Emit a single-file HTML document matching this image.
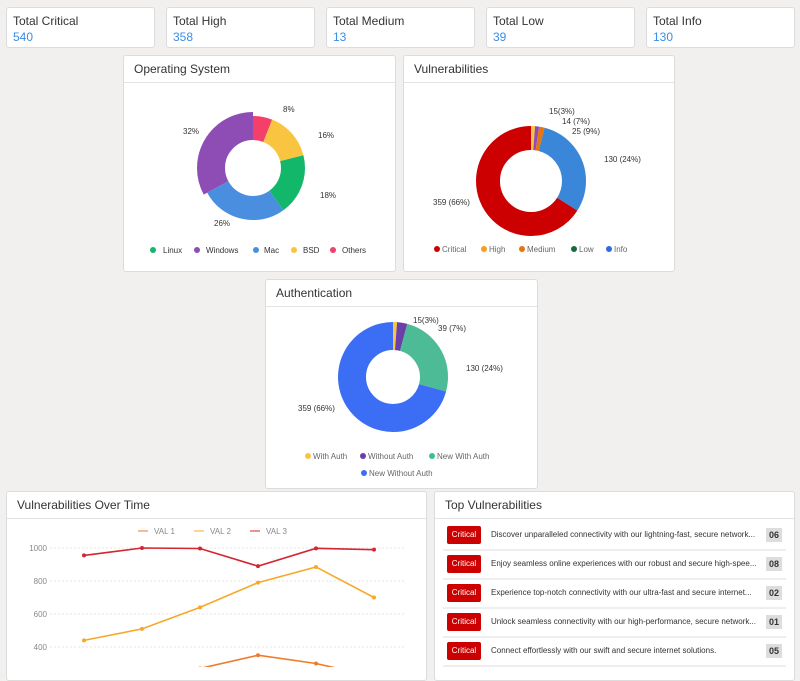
<!DOCTYPE html>
<html><head><meta charset="utf-8"><style>
body{margin:0;width:800px;height:667px;overflow:hidden;background:#f1f0ee;font-family:"Liberation Sans",sans-serif;position:relative}
.card{position:absolute;background:#fff;border:1px solid #dcdcdc;border-radius:3px;box-sizing:border-box}
.t{position:absolute;left:6px;top:6px;font-size:12px;color:#333}
.v{position:absolute;left:6px;top:22px;font-size:12px;color:#3a8ee6}
.hd{height:26px;border-bottom:1px solid #e3e3e3;font-size:12px;color:#333;line-height:26px;padding-left:10px}
svg{position:absolute;left:0;top:0}
.row{position:absolute;left:8px;right:8px;height:27px;border-bottom:2px solid #eee}
.b{position:absolute;left:4px;top:4px;width:34px;height:18px;background:#cc0000;color:#fff;font-size:8px;line-height:18px;text-align:center;border-radius:2px}
.tx{position:absolute;left:48px;top:8px;font-size:8px;color:#333}
.n{position:absolute;right:4px;top:6px;width:16px;height:14px;background:#ddd;font-size:9px;font-weight:bold;line-height:14px;text-align:center;color:#333}
</style></head><body>
<div class="card" style="left:6px;top:7px;width:149px;height:41px"><div class="t">Total Critical</div><div class="v">540</div></div>
<div class="card" style="left:166px;top:7px;width:149px;height:41px"><div class="t">Total High</div><div class="v">358</div></div>
<div class="card" style="left:326px;top:7px;width:149px;height:41px"><div class="t">Total Medium</div><div class="v">13</div></div>
<div class="card" style="left:486px;top:7px;width:149px;height:41px"><div class="t">Total Low</div><div class="v">39</div></div>
<div class="card" style="left:646px;top:7px;width:149px;height:41px"><div class="t">Total Info</div><div class="v">130</div></div>

<div class="card" style="left:123px;top:55px;width:273px;height:217px"><div class="hd">Operating System</div></div>
<div class="card" style="left:403px;top:55px;width:272px;height:217px"><div class="hd">Vulnerabilities</div></div>
<div class="card" style="left:265px;top:279px;width:273px;height:210px"><div class="hd">Authentication</div></div>
<div class="card" style="left:6px;top:491px;width:421px;height:190px"><div class="hd">Vulnerabilities Over Time</div></div>
<div class="card" style="left:434px;top:491px;width:361px;height:190px"><div class="hd">Top Vulnerabilities</div>
<div class="row" style="top:30px"><div class="b">Critical</div><div class="tx">Discover unparalleled connectivity with our lightning-fast, secure network...</div><div class="n">06</div></div>
<div class="row" style="top:59px"><div class="b">Critical</div><div class="tx">Enjoy seamless online experiences with our robust and secure high-spee...</div><div class="n">08</div></div>
<div class="row" style="top:88px"><div class="b">Critical</div><div class="tx">Experience top-notch connectivity with our ultra-fast and secure internet...</div><div class="n">02</div></div>
<div class="row" style="top:117px"><div class="b">Critical</div><div class="tx">Unlock seamless connectivity with our high-performance, secure network...</div><div class="n">01</div></div>
<div class="row" style="top:146px"><div class="b">Critical</div><div class="tx">Connect effortlessly with our swift and secure internet solutions.</div><div class="n">05</div></div>
</div>

<svg id="s" width="800" height="667" font-family="Liberation Sans, sans-serif" font-size="8" fill="#333">
<g stroke="#e6e6e6" stroke-dasharray="2,2"><line x1="50" y1="548" x2="405" y2="548"/><line x1="50" y1="581" x2="405" y2="581"/><line x1="50" y1="614" x2="405" y2="614"/><line x1="50" y1="647" x2="405" y2="647"/></g>
<g fill="#888" text-anchor="end"><text x="47" y="551">1000</text><text x="47" y="584">800</text><text x="47" y="617">600</text><text x="47" y="650">400</text></g>
<g fill="#888"><line x1="138" y1="531" x2="148" y2="531" stroke="#f07a2a"/><text x="154" y="534">VAL 1</text>
<line x1="194" y1="531" x2="204" y2="531" stroke="#f8a829"/><text x="210" y="534">VAL 2</text>
<line x1="250" y1="531" x2="260" y2="531" stroke="#d42530"/><text x="266" y="534">VAL 3</text></g>
<g id="donuts"></g>
<g font-size="8">
<text x="283" y="112">8%</text><text x="318" y="138">16%</text><text x="320" y="198">18%</text><text x="214" y="226">26%</text><text x="183" y="134">32%</text>
<text x="549" y="114">15(3%)</text><text x="562" y="124">14 (7%)</text><text x="572" y="134">25 (9%)</text><text x="604" y="162">130 (24%)</text><text x="433" y="205">359 (66%)</text>
<text x="413" y="323">15(3%)</text><text x="438" y="331">39 (7%)</text><text x="466" y="371">130 (24%)</text><text x="298" y="411">359 (66%)</text>
</g>
<g font-size="8">
<circle cx="153" cy="250" r="3" fill="#12b76a"/><text x="163" y="253">Linux</text>
<circle cx="197" cy="250" r="3" fill="#8e4db5"/><text x="206" y="253">Windows</text>
<circle cx="256" cy="250" r="3" fill="#4a8ee0"/><text x="264" y="253">Mac</text>
<circle cx="294" cy="250" r="3" fill="#f9c440"/><text x="303" y="253">BSD</text>
<circle cx="333" cy="250" r="3" fill="#f43f6b"/><text x="342" y="253">Others</text>
<circle cx="437" cy="249" r="3" fill="#cc0000"/><text x="442" y="252" fill="#666">Critical</text>
<circle cx="484" cy="249" r="3" fill="#f89c1c"/><text x="489" y="252" fill="#666">High</text>
<circle cx="522" cy="249" r="3" fill="#e8740c"/><text x="527" y="252" fill="#666">Medium</text>
<circle cx="574" cy="249" r="3" fill="#1a6b3a"/><text x="579" y="252" fill="#666">Low</text>
<circle cx="609" cy="249" r="3" fill="#2f6be8"/><text x="614" y="252" fill="#666">Info</text>
<circle cx="308" cy="456" r="3" fill="#f9c440"/><text x="313" y="459" fill="#666">With Auth</text>
<circle cx="363" cy="456" r="3" fill="#6b3fa8"/><text x="368" y="459" fill="#666">Without Auth</text>
<circle cx="432" cy="456" r="3" fill="#3bbf9a"/><text x="437" y="459" fill="#666">New With Auth</text>
<circle cx="364" cy="473" r="3" fill="#3b6ef5"/><text x="369" y="476" fill="#666">New Without Auth</text>
</g>
</svg>
<script>
var s=document.getElementById('s'),NS='http://www.w3.org/2000/svg',dg=document.getElementById('donuts');
function el(t,a,p){var e=document.createElementNS(NS,t);for(var k in a)e.setAttribute(k,a[k]);(p||s).appendChild(e);return e}
function donut(cx,cy,r,w,segs){var C=2*Math.PI*r,acc=0;segs.forEach(function(g){var L=g[0]*C;var rr=g[2]||r;var CC=2*Math.PI*rr;var f=rr/r;el('circle',{cx:cx,cy:cy,r:rr,fill:'none',stroke:g[1],'stroke-width':g[3]||w,'stroke-dasharray':(L*f)+' '+(CC*2),'stroke-dashoffset':-acc*f,transform:'rotate(-90 '+cx+' '+cy+')'},dg);acc+=L;});}
donut(253,168,40,24,[[.06,'#f43f6b'],[.15,'#f9c440'],[.19,'#12b76a'],[.27,'#4a8ee0'],[.33,'#8e4db5',42,28]]);
donut(531,181,43,24,[[.012,'#f9c440'],[.012,'#8e4db5'],[.016,'#e8740c'],[.30,'#3a86d8'],[.66,'#cc0000']]);
donut(393,377,41,28,[[.012,'#f9c440'],[.03,'#6b3fa8'],[.25,'#4dbb96'],[.708,'#3b6ef5']]);
var xs=[84,142,200,258,316,374];
function y(v){return 548+(1000-v)*33/200}
[[[150,200,270,350,300,220],'#f07a2a'],[[440,510,640,790,885,700],'#f8a829'],[[955,1000,997,890,998,990],'#d42530']].forEach(function(d){
el('polyline',{points:xs.map(function(x,i){return x+','+y(d[0][i])}).join(' '),fill:'none',stroke:d[1],'stroke-width':1.6});
xs.forEach(function(x,i){el('circle',{cx:x,cy:y(d[0][i]),r:2,fill:d[1]})});});
</script>
</body></html>
